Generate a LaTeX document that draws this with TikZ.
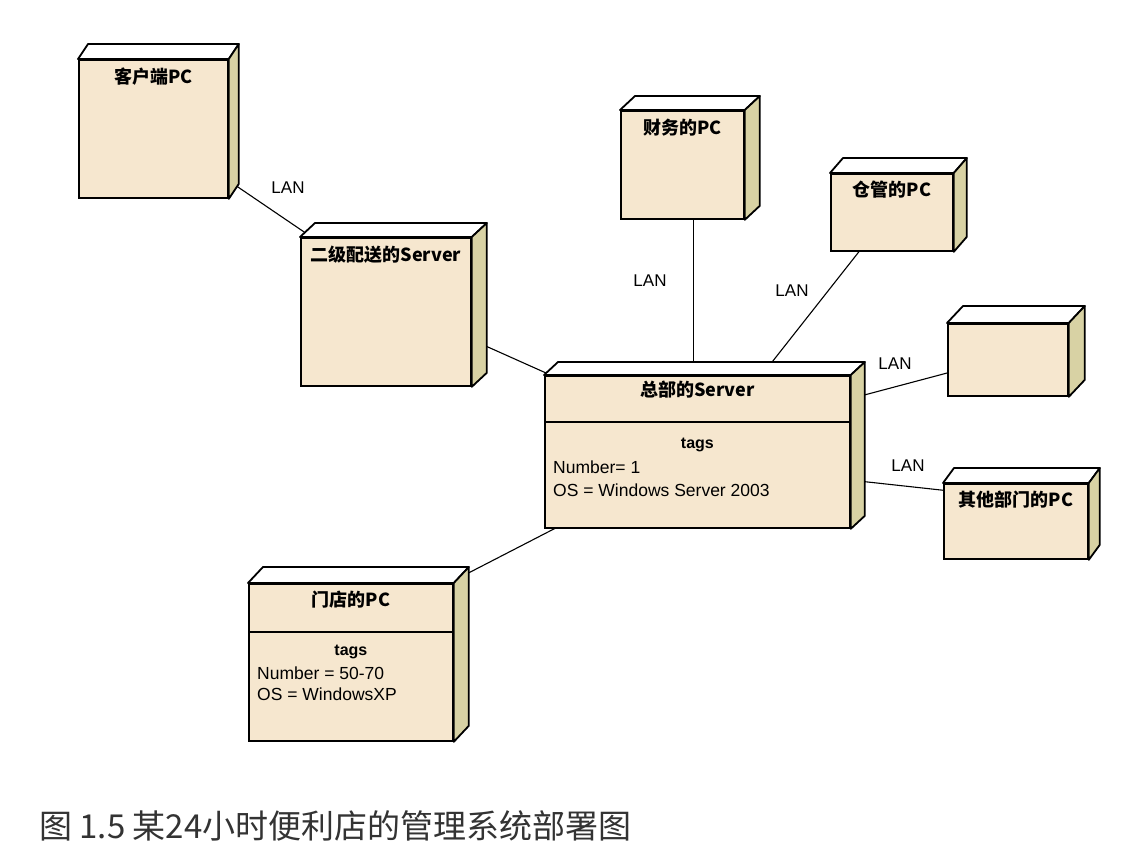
\documentclass[tikz,border=0pt]{standalone}
\usepackage{fontspec}
\setmainfont{Liberation Sans}
\newfontfamily\cjk{Noto Sans CJK SC}
\usetikzlibrary{backgrounds}
\definecolor{nodefront}{HTML}{F6E7CF}
\definecolor{nodeside}{HTML}{D8D2A4}
\definecolor{captiongray}{HTML}{333333}
\tikzset{
  front/.style={draw=black, line width=1.8pt, fill=nodefront, anchor=north west, inner sep=0pt},
  topface/.style={draw=black, line width=1.8pt, fill=white, line join=round},
  sideface/.style={draw=black, line width=1.8pt, fill=nodeside, line join=round},
  title/.style={font=\cjk\bfseries\fontsize{18}{20}\selectfont, inner sep=0pt},
  link/.style={draw=black, line width=1.1pt},
  lan/.style={font=\fontsize{17}{18}\selectfont, inner sep=0pt},
  tagline/.style={font=\fontsize{17.5}{19}\selectfont, anchor=west, inner sep=0pt},
  taghead/.style={font=\bfseries\fontsize{16}{18}\selectfont, inner sep=0pt},
  divider/.style={draw=black, line width=1.8pt},
}
% top and right faces of a UML deployment node
\newcommand\solidbox[3]{%
  \draw[topface] (#1.north west) -- ++(#2,#3) -- ([shift={(#2,#3)}]#1.north east) -- (#1.north east) -- cycle;
  \draw[sideface] (#1.north east) -- ++(#2,#3) -- ([shift={(#2,#3)}]#1.south east) -- (#1.south east) -- cycle;
}
\begin{document}
\begin{tikzpicture}[x=1pt,y=1pt]
\useasboundingbox (0,0) rectangle (1134,-854);

% client PC
\node[front, minimum width=149, minimum height=138] (c1) at (78,-59) {};
\solidbox{c1}{10}{15}
\node[title] (c1t) at ([yshift=-18]c1.north) {客户端PC};

% second-level distribution server
\node[front, minimum width=170, minimum height=148] (c2) at (300,-237) {};
\solidbox{c2}{15}{14}
\node[title] (c2t) at ([yshift=-18]c2.north) {二级配送的Server};

% finance PC
\node[front, minimum width=123, minimum height=108] (cw) at (620,-110) {};
\solidbox{cw}{15}{14}
\node[title] (cwt) at ([yshift=-18]cw.north) {财务的PC};

% warehouse PC
\node[front, minimum width=122, minimum height=77] (cg) at (830,-173) {};
\solidbox{cg}{13}{15}
\node[title] (cgt) at ([yshift=-17]cg.north) {仓管的PC};

% unnamed PC
\node[front, minimum width=120, minimum height=72] (bl) at (947,-323) {};
\solidbox{bl}{16}{17}

% other departments PC
\node[front, minimum width=144, minimum height=75] (qt) at (943,-483) {};
\solidbox{qt}{11}{15}
\node[title] (qtt) at ([yshift=-17]qt.north) {其他部门的PC};

% headquarters server
\node[front, minimum width=305, minimum height=152] (hq) at (544,-375) {};
\solidbox{hq}{14}{13}
\node[title] (hqt) at ([yshift=-15]hq.north) {总部的Server};
\draw[divider] ([yshift=-47]hq.north west) -- ([yshift=-47]hq.north east);
\node[taghead] (hqtag) at ([yshift=-70]hq.north) {tags};
\node[tagline] (hqn) at ([shift={(9,-92)}]hq.north west) {Number= 1};
\node[tagline] (hqos) at ([shift={(9,-115)}]hq.north west) {OS = Windows Server 2003};

% store PC
\node[front, minimum width=204, minimum height=157] (md) at (248,-583) {};
\solidbox{md}{15}{16}
\node[title] (mdt) at ([yshift=-17]md.north) {门店的PC};
\draw[divider] ([yshift=-49]md.north west) -- ([yshift=-49]md.north east);
\node[taghead] (mdtag) at ([yshift=-69]md.north) {tags};
\node[tagline] (mdn) at ([shift={(9,-90)}]md.north west) {Number = 50-70};
\node[tagline] (mdos) at ([shift={(9,-111)}]md.north west) {OS = WindowsXP};

% LAN links, drawn beneath the nodes
\begin{pgfonlayer}{background}
  \fill[white] (0,0) rectangle (1134,-854);
  \draw[link] ([shift={(0,18)}]c1.south east) -- ([shift={(10,1)}]c2.north west);
  \draw[link] ([shift={(0,47)}]c2.south east) -- ([shift={(11,-2)}]hq.north west);
  \draw[link] ([shift={(11.5,0)}]cw.south) -- ([shift={(-3.5,-5)}]hq.north);
  \draw[link] ([shift={(-91,5)}]cg.south east) -- ([shift={(60.5,-5)}]hq.north);
  \draw[link] ([shift={(8,-11)}]bl.west) -- ([shift={(6,-22)}]hq.north east);
  \draw[link] ([shift={(7,-8)}]qt.north west) -- ([shift={(6,48)}]hq.south east);
  \draw[link] ([shift={(16,3)}]hq.south west) -- ([shift={(3,4)}]md.north east);
\end{pgfonlayer}

\node[lan] (lan1) at (288,-188) {LAN};
\node[lan] (lan2) at (650,-281) {LAN};
\node[lan] (lan3) at (792,-291) {LAN};
\node[lan] (lan4) at (895,-364) {LAN};
\node[lan] (lan5) at (908,-466) {LAN};

% caption
\node[anchor=west, inner sep=0pt, font=\cjk\fontsize{33}{35}\selectfont, text=captiongray] (cap) at (39,-826) {图 1.5 某24小时便利店的管理系统部署图};
\end{tikzpicture}
\end{document}
